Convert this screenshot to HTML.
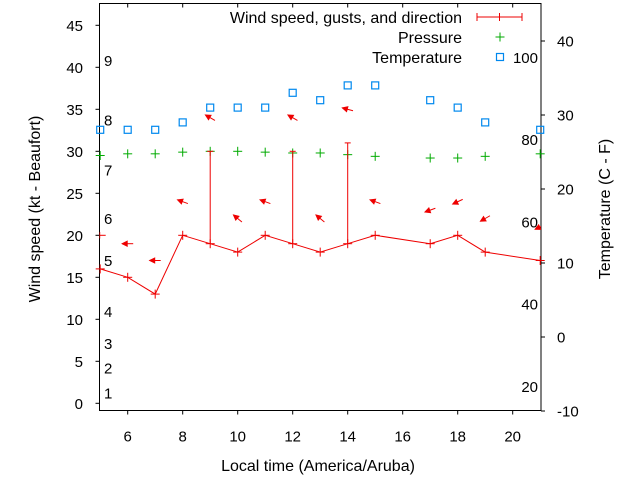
<!DOCTYPE html>
<html><head><meta charset="utf-8"><style>
body{margin:0;background:#fff}
svg{display:block;font-family:"Liberation Sans",sans-serif;font-size:15px}
.t{font-size:16px}
</style></head><body>
<svg id="chart" width="640" height="480" viewBox="0 0 640 480" xmlns="http://www.w3.org/2000/svg">
<rect x="0" y="0" width="640" height="480" fill="#fff"/>
<g id="grid"></g>
<g id="marks"></g>
<text class="t" transform="translate(40,209) rotate(-90)" text-anchor="middle">Wind speed (kt - Beaufort)</text>
<text class="t" transform="translate(610,209) rotate(-90)" text-anchor="middle">Temperature (C - F)</text>
<text class="t" x="318" y="471" text-anchor="middle">Local time (America/Aruba)</text>
<g>
<text class="t" x="462" y="23" text-anchor="end">Wind speed, gusts, and direction</text>
<g stroke="#e00" stroke-width="1"><line x1="477" y1="17" x2="522" y2="17"/><line x1="477" y1="13" x2="477" y2="21"/><line x1="522" y1="13" x2="522" y2="21"/><line x1="499.5" y1="13" x2="499.5" y2="21"/></g>
<text class="t" x="462" y="43" text-anchor="end">Pressure</text>
<g stroke="#0a0"><line x1="495.5" y1="37" x2="504.5" y2="37"/><line x1="500" y1="32.5" x2="500" y2="41.5"/></g>
<text class="t" x="462" y="63" text-anchor="end">Temperature</text>
<rect x="496.5" y="53.5" width="7" height="7" fill="none" stroke="#08e" stroke-width="1.2"/>
</g>
</svg>
<script>
const hours=[5,6,7,8,9,10,11,12,13,14,15,17,18,19,21];
const windSpeed=[16,15,13,20,19,18,20,19,18,19,20,19,20,18,17];
const gusts=[null,null,null,null,30,null,null,30,null,31,null,null,null,null,null];
const pressure=[29.5,29.7,29.7,29.9,30.0,30.0,29.9,29.8,29.8,29.6,29.4,29.2,29.2,29.4,29.7];
const temperature=[28,28,28,29,31,31,31,33,32,34,34,32,31,29,28];
const arrowLevel=[20,19,17,24,34,22,24,34,22,35,24,23,24,22,21];
const windDir=[90,90,90,110,120,130,110,120,130,105,110,70,65,60,65];
const xTicks=[6,8,10,12,14,16,18,20];
const yTicks=[0,5,10,15,20,25,30,35,40,45];
const y2Ticks=[-10,0,10,20,30,40];
const fLabels=[20,40,60,80,100];
const beaufortLabels=['1','2','3','4','5','6','7','8','9'];
const beaufortY=[1.2,4.2,7.1,10.9,17,22,27.8,33.7,40.8];

const L=99.5,R=541,T=3.5,B=410.5;
const xs=h=>100.2+(h-5)*27.5;
const ys=v=>403.3-v*8.4;
const ys2=c=>337-c*7.4;
const NS='http://www.w3.org/2000/svg';
const grid=document.getElementById('grid'),marks=document.getElementById('marks');
function mk(tag,attrs,parent){const e=document.createElementNS(NS,tag);for(const k in attrs)e.setAttribute(k,attrs[k]);parent.appendChild(e);return e;}

const frame=mk('rect',{x:L,y:T,width:R-L,height:B-T,fill:'none',stroke:'#000','stroke-width':1},grid);


xTicks.forEach(t=>{
  const g=mk('g',{},grid);
  
  
  mk('line',{x1:xs(t),y1:B,x2:xs(t),y2:B+4,stroke:'#000'},g);
  mk('line',{x1:xs(t),y1:T,x2:xs(t),y2:T+4,stroke:'#000'},g);
  const tx=mk('text',{x:xs(t),y:B+31,'text-anchor':'middle'},g);tx.textContent=t;
});
yTicks.forEach(t=>{
  const g=mk('g',{},grid);
  
  
  mk('line',{x1:L-4,y1:ys(t),x2:L,y2:ys(t),stroke:'#000'},g);
  const tx=mk('text',{x:83,y:ys(t)+5.5,'text-anchor':'end'},g);tx.textContent=t;
});
y2Ticks.forEach(t=>{
  const g=mk('g',{},grid);
  
  
  mk('line',{x1:R,y1:ys2(t),x2:R+4,y2:ys2(t),stroke:'#000'},g);
  const tx=mk('text',{x:557,y:ys2(t)+5.5,'text-anchor':'start'},g);tx.textContent=t;
});
fLabels.forEach(f=>{
  const tx=mk('text',{x:538,y:ys2((f-32)*5/9)+5.5,'text-anchor':'end'},grid);
  
  
  tx.textContent=f;
});
beaufortLabels.forEach((b,i)=>{
  const tx=mk('text',{x:104,y:ys(beaufortY[i])+5.5},grid);
  
  
  tx.textContent=b;
});
const defs=mk('defs',{},marks);
const cp=mk('clipPath',{id:'clip'},defs);mk('rect',{x:L,y:T,width:R-L,height:B-T},cp);
const cg=mk('g',{'clip-path':'url(#clip)'},marks);
hours.forEach((h,i)=>{
  const r=mk('rect',{x:xs(h)-3.5,y:ys2(temperature[i])-3.5,width:7,height:7,fill:'none',stroke:'#08e','stroke-width':1.2},marks);
  
  
});
hours.forEach((h,i)=>{
  const g=mk('g',{stroke:'#0a0'},marks);
  
  
  const x=xs(h),y=ys(pressure[i]);
  mk('line',{x1:x-4.5,y1:y,x2:x+4.5,y2:y},g);mk('line',{x1:x,y1:y-4.5,x2:x,y2:y+4.5},g);
});
const pl=mk('polyline',{points:hours.map((h,i)=>xs(h)+','+ys(windSpeed[i])).join(' '),fill:'none',stroke:'#e00'},cg);


hours.forEach((h,i)=>{
  const g=mk('g',{stroke:'#e00'},marks);
  
  
  const x=xs(h),y=ys(windSpeed[i]);
  mk('line',{x1:x-4.5,y1:y,x2:x+4.5,y2:y},g);mk('line',{x1:x,y1:y-4.5,x2:x,y2:y+4.5},g);
  if(gusts[i]!=null){
    const gy=ys(gusts[i]);
    mk('line',{x1:x,y1:y,x2:x,y2:gy},g);
    mk('line',{x1:x-3,y1:gy,x2:x+3,y2:gy},g);
  }
});
hours.forEach((h,i)=>{
  const g=mk('g',{stroke:'#e00',fill:'#e00'},cg);
  
  
  const a=windDir[i]*Math.PI/180;
  const dx=-Math.sin(a),dy=Math.cos(a);
  const cx=xs(h),cy=ys(arrowLevel[i]);
  const hx=cx+dx*5.5,hy=cy+dy*5.5,tx=cx-dx*5.5,ty=cy-dy*5.5;
  mk('line',{x1:tx,y1:ty,x2:hx,y2:hy,'stroke-width':1},g);
  const px=-dy,py=dx;
  const bx=hx-dx*5,by=hy-dy*5;
  mk('polygon',{points:`${hx},${hy} ${bx+px*2.5},${by+py*2.5} ${bx-px*2.5},${by-py*2.5}`},g);
});
</script>
</body></html>
